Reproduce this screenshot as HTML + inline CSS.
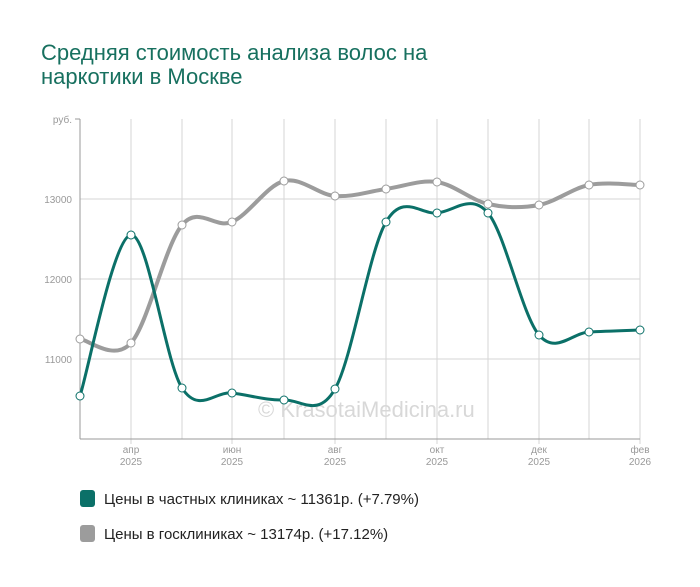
<!DOCTYPE html>
<html><head><meta charset="utf-8"><style>
body{margin:0;background:#fff;width:700px;height:582px;overflow:hidden;font-family:"Liberation Sans",sans-serif}
</style></head><body>
<svg width="700" height="582" xmlns="http://www.w3.org/2000/svg" font-family="Liberation Sans, sans-serif">
<text x="41" y="60" font-size="22" fill="#17705f">Средняя стоимость анализа волос на</text>
<text x="41" y="84" font-size="22" fill="#17705f">наркотики в Москве</text>
<g stroke="#d6d6d6" stroke-width="1">
<line x1="80" y1="199" x2="640" y2="199"/><line x1="80" y1="279" x2="640" y2="279"/><line x1="80" y1="359" x2="640" y2="359"/>
<g id="vg"></g>
</g>
<line x1="80" y1="119" x2="80" y2="439" stroke="#999"/>
<line x1="80" y1="439" x2="640" y2="439" stroke="#999"/>
<line x1="75" y1="119" x2="80" y2="119" stroke="#999"/>
<g font-size="10" fill="#999" text-anchor="end">
<text x="72" y="123">руб.</text><text x="72" y="203">13000</text><text x="72" y="283">12000</text><text x="72" y="363">11000</text>
</g>
<g font-size="10" fill="#999" text-anchor="middle">
<text x="131" y="453">апр</text><text x="131" y="465">2025</text>
<text x="232" y="453">июн</text><text x="232" y="465">2025</text>
<text x="335" y="453">авг</text><text x="335" y="465">2025</text>
<text x="437" y="453">окт</text><text x="437" y="465">2025</text>
<text x="539" y="453">дек</text><text x="539" y="465">2025</text>
<text x="640" y="453">фев</text><text x="640" y="465">2026</text>
</g>
<text x="258" y="417" font-size="22" fill="#d8d8d8">© KrasotaiMedicina.ru</text>
<path id="g" fill="none" stroke="#9c9c9c" stroke-width="4"/>
<path id="t" fill="none" stroke="#0b7068" stroke-width="3"/>
<g id="pts"></g>
<rect x="80" y="490" width="15" height="17" rx="3" fill="#0b7068"/>
<text x="104" y="504" font-size="15" fill="#222">Цены в частных клиниках ~ 11361р. (+7.79%)</text>
<rect x="80" y="525" width="15" height="17" rx="3" fill="#9c9c9c"/>
<text x="104" y="539" font-size="15" fill="#222">Цены в госклиниках ~ 13174р. (+17.12%)</text>
</svg>
<script>
var X=[80,131,182,232,284,335,386,437,488,539,589,640];
var T=[396,235,388,393,400,389,222,213,213,335,332,330];
var G=[339,343,225,222,181,196,189,182,204,205,185,185];
var vg=document.getElementById('vg'),ns='http://www.w3.org/2000/svg';
for(var i=1;i<12;i++){var l=document.createElementNS(ns,'line');l.setAttribute('x1',X[i]);l.setAttribute('x2',X[i]);l.setAttribute('y1',119);l.setAttribute('y2',i%2?444:439);vg.appendChild(l);}
function path(Y){var d='M'+X[0]+','+Y[0];for(var i=0;i<11;i++){var p0=i?i-1:i,p3=i+2<12?i+2:i+1;
var c1x=X[i]+(X[i+1]-X[p0])/6,c1y=Y[i]+(Y[i+1]-Y[p0])/6,c2x=X[i+1]-(X[p3]-X[i])/6,c2y=Y[i+1]-(Y[p3]-Y[i])/6;
d+=' C'+c1x+','+c1y+' '+c2x+','+c2y+' '+X[i+1]+','+Y[i+1];}return d;}
document.getElementById('g').setAttribute('d',path(G));
document.getElementById('t').setAttribute('d',path(T));
var pts=document.getElementById('pts');
[[G,'#9c9c9c'],[T,'#0b7068']].forEach(function(s){for(var i=0;i<12;i++){var c=document.createElementNS(ns,'circle');c.setAttribute('cx',X[i]);c.setAttribute('cy',s[0][i]);c.setAttribute('r',4);c.setAttribute('fill','#fff');c.setAttribute('stroke',s[1]);c.setAttribute('stroke-width',1);pts.appendChild(c);}});
</script>
</body></html>
